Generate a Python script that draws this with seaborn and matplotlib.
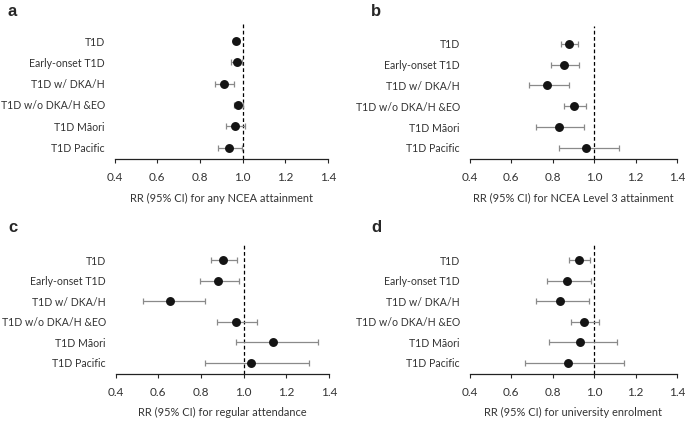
import numpy as np
import pandas as pd
import matplotlib
matplotlib.use("Agg")
import matplotlib.pyplot as plt
import seaborn as sns

groups = ["T1D", "Early-onset T1D", "T1D w/ DKA/H", "T1D w/o DKA/H &EO",
          "T1D M\u0101ori", "T1D Pacific"]

# panel a: any NCEA attainment
rr_a = [0.970, 0.973, 0.912, 0.980, 0.966, 0.936]
lo_a = [0.958, 0.947, 0.869, 0.958, 0.922, 0.883]
hi_a = [0.984, 0.998, 0.961, 1.000, 1.011, 0.998]

# panel b: NCEA Level 3 attainment
rr_b = [0.879, 0.853, 0.774, 0.905, 0.829, 0.961]
lo_b = [0.842, 0.791, 0.688, 0.855, 0.721, 0.831]
hi_b = [0.922, 0.929, 0.878, 0.960, 0.953, 1.119]

# panel c: regular attendance
rr_c = [0.905, 0.881, 0.655, 0.964, 1.136, 1.033]
lo_c = [0.847, 0.797, 0.527, 0.876, 0.963, 0.820]
hi_c = [0.969, 0.980, 0.817, 1.061, 1.350, 1.306]

# panel d: university enrolment
rr_d = [0.927, 0.871, 0.836, 0.951, 0.934, 0.874]
lo_d = [0.877, 0.773, 0.720, 0.889, 0.784, 0.668]
hi_d = [0.980, 0.987, 0.974, 1.025, 1.112, 1.146]

panels = [
    ("a", "RR (95% CI) for any NCEA attainment", rr_a, lo_a, hi_a),
    ("b", "RR (95% CI) for NCEA Level 3 attainment", rr_b, lo_b, hi_b),
    ("c", "RR (95% CI) for regular attendance", rr_c, lo_c, hi_c),
    ("d", "RR (95% CI) for university enrolment", rr_d, lo_d, hi_d),
]
xticks = [0.4, 0.6, 0.8, 1.0, 1.2, 1.4]

sns.set_style("white")
plt.rcParams["font.family"] = ["Lato", "DejaVu Sans"]

W, H = 685, 421
fig = plt.figure(figsize=(W / 100, H / 100), dpi=100)

# axes boxes in pixels: left, right, top, bottom
boxes = [
    (114.7, 328.0, 23, 159.3),
    (469.7, 677.0, 26, 159.3),
    (115.7, 329.0, 243, 374),
    (469.7, 677.0, 243, 374),
]
letter_pos = [(8, 12), (371, 12), (8, 227), (371, 227)]

for (letter, xlabel, rr, lo, hi), (l, r, t, b), (lx, ly) in zip(panels, boxes, letter_pos):
    ax = fig.add_axes([l / W, 1 - b / H, (r - l) / W, (b - t) / H])
    df = pd.DataFrame({"group": groups, "rr": rr, "lo": lo, "hi": hi})
    pos = np.arange(len(df))

    ax.axvline(1.0, color="black", lw=0.9, ls=(0, (3, 2)), zorder=1)
    ax.errorbar(df["rr"], pos, xerr=[df["rr"] - df["lo"], df["hi"] - df["rr"]],
                fmt="none", ecolor="#8a8a8a", elinewidth=0.9, capsize=2,
                capthick=0.9, zorder=2)
    sns.pointplot(data=df, x="rr", y="group", order=groups, linestyle="none",
                  marker="o", color="#141414", markersize=4.4, errorbar=None,
                  ax=ax, zorder=3)

    ax.set_xlim(0.4, 1.4)
    ax.set_ylim(5.55, -0.85)
    ax.set_xticks(xticks)
    ax.set_xticklabels([f"{v:.1f}" for v in xticks], fontsize=8.5, color="#333")
    ax.set_yticks(pos)
    ax.set_yticklabels(groups, fontsize=7.6, color="#333")
    ax.tick_params(axis="x", length=3, width=0.8, pad=6, direction="out", bottom=True)
    ax.tick_params(axis="y", length=0, pad=7)
    ax.set_xlabel(xlabel, fontsize=7.9, color="#333", labelpad=7)
    ax.set_ylabel("")
    for s in ["top", "right", "left"]:
        ax.spines[s].set_visible(False)
    ax.spines["bottom"].set_color("#222")
    ax.spines["bottom"].set_linewidth(0.9)

    fig.text(lx / W, 1 - ly / H, letter, fontsize=12, fontweight="bold",
             family="Liberation Sans", ha="left", va="center")

fig.savefig("out.png", dpi=100)
